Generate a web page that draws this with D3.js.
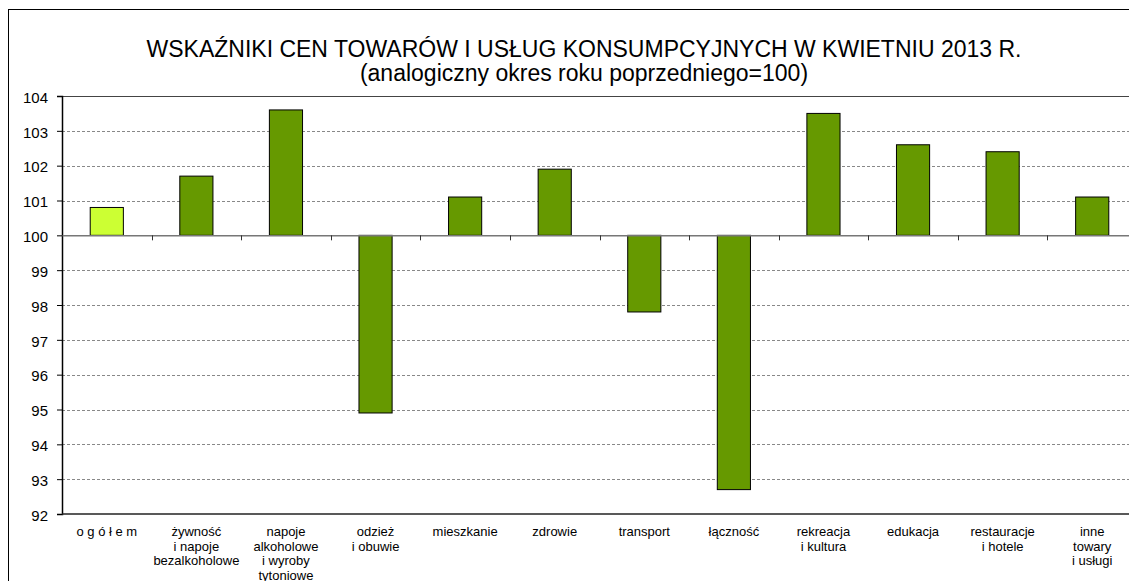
<!DOCTYPE html>
<html>
<head>
<meta charset="utf-8">
<script src="https://cdn.jsdelivr.net/npm/d3@7"></script>
<style>
  html, body { margin: 0; background: #fff; overflow: hidden; }
  svg { display: block; font-family: "Liberation Sans", Arial, sans-serif; }
</style>
</head>
<body>
<div id="chart"></div>
<script>
const categories = [
  "o g ó ł e m",
  "żywność\ni napoje\nbezalkoholowe",
  "napoje\nalkoholowe\ni wyroby\ntytoniowe",
  "odzież\ni obuwie",
  "mieszkanie",
  "zdrowie",
  "transport",
  "łączność",
  "rekreacja\ni kultura",
  "edukacja",
  "restauracje\ni hotele",
  "inne\ntowary\ni usługi"
];
const values = [100.8, 101.7, 103.6, 94.9, 101.1, 101.9, 97.8, 92.7, 103.5, 102.6, 102.4, 101.1];
const yTicks = [92, 93, 94, 95, 96, 97, 98, 99, 100, 101, 102, 103, 104];
const baseline = 100;
const titleLines = [
  "WSKAŹNIKI CEN TOWARÓW I USŁUG KONSUMPCYJNYCH W KWIETNIU 2013 R.",
  "(analogiczny okres roku poprzedniego=100)"
];

const width = 1129, height = 581;
const svg = d3.select("#chart").append("svg")
  .attr("width", width)
  .attr("height", height);

// outer frame (runs past the right and bottom edges)
svg.append("rect")
  .attr("x", 8.5).attr("y", 9.5)
  .attr("width", 1140).attr("height", 600)
  .attr("fill", "none").attr("stroke", "#000").attr("stroke-width", 1);

const plot = { left: 62, right: 1137, top: 96, bottom: 514 };

const x = d3.scaleBand()
  .domain(categories)
  .range([plot.left, plot.right]);

const y = d3.scaleLinear()
  .domain([92, 104])
  .range([plot.bottom, plot.top]);

// gridlines
svg.append("g")
  .selectAll("line")
  .data(yTicks.filter(d => d !== 92 && d !== baseline))
  .enter().append("line")
  .attr("x1", plot.left).attr("x2", plot.right)
  .attr("y1", d => Math.round(y(d)) + 0.5)
  .attr("y2", d => Math.round(y(d)) + 0.5)
  .attr("stroke", d => d === 104 ? "#444" : "#888")
  .attr("stroke-dasharray", d => d === 104 ? null : "3,2")
  .attr("stroke-width", 1);

// y axis
const yAxis = svg.append("g")
  .attr("transform", "translate(" + plot.left + ",0)")
  .call(d3.axisLeft(y).tickValues(yTicks).tickSize(5).tickPadding(9).tickFormat(d3.format("d")));
yAxis.select(".domain").attr("stroke", "#000").attr("stroke-width", 1.5);
yAxis.selectAll(".tick line").attr("stroke", "#000");
yAxis.selectAll("text")
  .attr("font-size", 15)
  .attr("dy", "0.42em")
  .attr("fill", "#000")
  .style("font-family", "Liberation Sans, Arial, sans-serif");

// bottom line at 92
svg.append("line")
  .attr("x1", plot.left).attr("x2", plot.right)
  .attr("y1", y(92)).attr("y2", y(92))
  .attr("stroke", "#222").attr("stroke-width", 1.5);

// bars
const barW = x.bandwidth() * 0.37;
svg.append("g")
  .selectAll("rect")
  .data(categories)
  .enter().append("rect")
  .attr("x", d => x(d) + (x.bandwidth() - barW) / 2)
  .attr("y", (d, i) => y(Math.max(values[i], baseline)))
  .attr("width", barW)
  .attr("height", (d, i) => Math.abs(y(values[i]) - y(baseline)))
  .attr("fill", (d, i) => i === 0 ? "#ccff33" : "#669900")
  .attr("stroke", "#000")
  .attr("stroke-width", 1);

// axis at 100 with category ticks
const xAxis = svg.append("g")
  .attr("transform", "translate(0," + y(baseline) + ")")
  .call(d3.axisBottom(x).tickSize(0).tickFormat(""));
xAxis.select(".domain").attr("stroke", "#777").attr("stroke-width", 1.5);
xAxis.selectAll(".tick").remove();
xAxis.selectAll(".sep")
  .data(categories.slice(1))
  .enter().append("line")
  .attr("x1", d => Math.round(x(d)) + 0.5)
  .attr("x2", d => Math.round(x(d)) + 0.5)
  .attr("y1", 0).attr("y2", 5)
  .attr("stroke", "#333");

// category labels
const labels = svg.append("g")
  .selectAll("text")
  .data(categories)
  .enter().append("text")
  .attr("text-anchor", "middle")
  .attr("font-size", 13)
  .attr("fill", "#000")
  .attr("transform", d => "translate(" + (x(d) + x.bandwidth() / 2) + "," + (plot.bottom + 22) + ")");
labels.selectAll("tspan")
  .data(d => d.split("\n"))
  .enter().append("tspan")
  .attr("x", 0)
  .attr("dy", (d, i) => i === 0 ? 0 : 14.5)
  .text(d => d);

// title
svg.append("g")
  .selectAll("text")
  .data(titleLines)
  .enter().append("text")
  .attr("x", 584)
  .attr("y", (d, i) => 57 + i * 24)
  .attr("text-anchor", "middle")
  .attr("font-size", 23)
  .attr("fill", "#000")
  .text(d => d);
</script>
</body>
</html>
